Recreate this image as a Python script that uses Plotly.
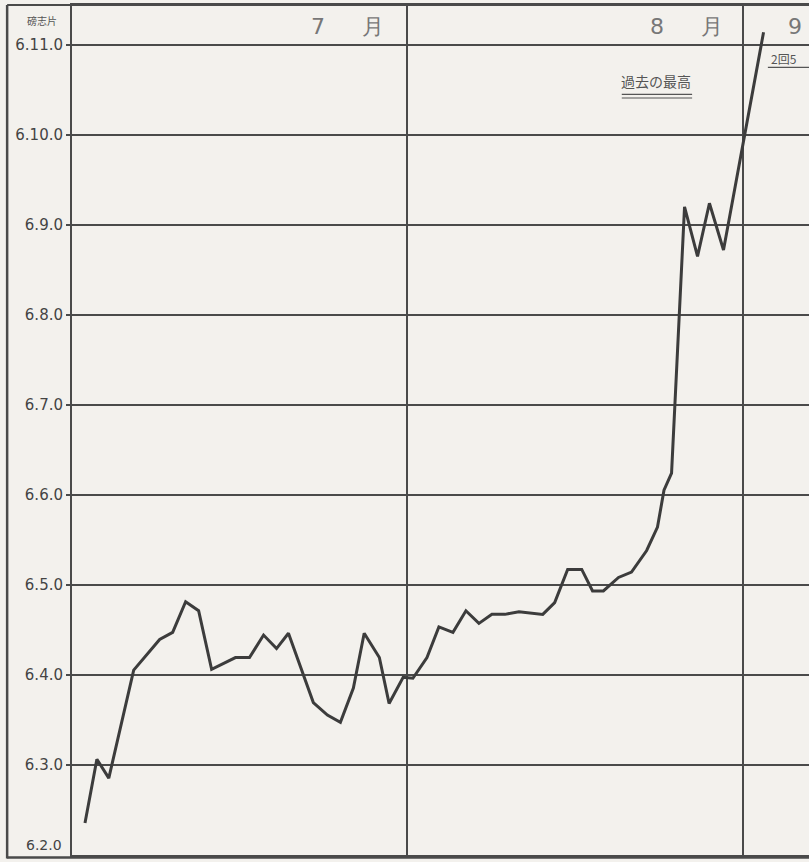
import plotly.graph_objects as go

# x: days counted from 1 July (August begins at 31, September at 62)
days = [1.2, 2.3, 3.4, 5.7, 8.1, 9.3, 10.5, 11.7, 12.9, 15.1, 16.4, 17.7, 18.9, 20.0,
        22.3, 23.6, 24.8, 26.0, 27.0, 28.4, 29.3, 30.6, 31.5, 32.8, 33.9, 35.2, 36.4,
        37.6, 38.8, 40.0, 41.3, 42.5, 43.5, 44.6, 45.8, 47.1, 48.1, 49.1, 50.5, 51.7,
        53.1, 54.1, 54.7, 55.4, 56.6, 57.8, 58.9, 60.2, 63.9]
# y: price in shillings above 6 pounds (6.x.0)
shillings = [2.35, 3.06, 2.85, 4.05, 4.39, 4.47, 4.81, 4.71, 4.06, 4.19, 4.19, 4.44, 4.29, 4.46,
             3.69, 3.55, 3.47, 3.85, 4.46, 4.19, 3.68, 3.97, 3.96, 4.19, 4.53, 4.47, 4.71,
             4.57, 4.67, 4.67, 4.70, 4.68, 4.67, 4.80, 5.17, 5.17, 4.93, 4.93, 5.08, 5.14,
             5.38, 5.64, 6.05, 6.24, 9.20, 8.65, 9.24, 8.72, 11.14]

tick_vals = [2, 3, 4, 5, 6, 7, 8, 9, 10, 11]
tick_text = ["6.2.0", "6.3.0", "6.4.0", "6.5.0", "6.6.0", "6.7.0", "6.8.0", "6.9.0", "6.10.0", "6.11.0"]
month_bounds = [31, 62]
month_labels = [("7", 22.7), ("月", 27.8), ("8", 54.1), ("月", 59.1), ("9", 66.8)]

INK = "#4a4a4a"
PAPER = "#f3f1ed"
FONT = "DejaVu Sans"

fig = go.Figure()
fig.add_trace(go.Scatter(x=days, y=shillings, mode="lines",
                         line=dict(color="#3c3c3c", width=3), showlegend=False,
                         hoverinfo="skip"))

annotations = []
for txt, xv in month_labels:
    annotations.append(dict(x=xv, y=11.2, xref="x", yref="y", text=txt, showarrow=False,
                            font=dict(family=FONT, size=22, color="#777777")))
annotations.append(dict(x=-0.018, y=11.27, xref="paper", yref="y", text="磅志片",
                        showarrow=False, xanchor="right",
                        font=dict(family="Noto Sans CJK JP", size=10, color="#555555")))
annotations.append(dict(x=54.0, y=10.6, xref="x", yref="y", text="過去の最高",
                        showarrow=False,
                        font=dict(family="Noto Sans CJK JP", size=14, color="#555555")))
annotations.append(dict(x=64.4, y=10.85, xref="x", yref="y", text="2回5",
                        showarrow=False, xanchor="left",
                        font=dict(family="Noto Sans CJK JP", size=12, color="#555555")))
# bottom tick label (sits just above the bottom border)
annotations.append(dict(x=-0.011, y=tick_vals[0], xref="paper", yref="y", text=tick_text[0],
                        showarrow=False, xanchor="right", yanchor="bottom",
                        font=dict(family=FONT, size=14, color="#444444")))

shapes = [
    # outer frame of the label column
    dict(type="line", xref="paper", yref="paper", x0=-0.088, x1=-0.088, y0=-0.004, y1=1,
         line=dict(color=INK, width=2.5)),
    dict(type="line", xref="paper", yref="paper", x0=-0.088, x1=1, y0=1, y1=1,
         line=dict(color=INK, width=2)),
    dict(type="line", xref="paper", yref="paper", x0=-0.088, x1=1, y0=-0.003, y1=-0.003,
         line=dict(color=INK, width=2.5)),
    # double underline of the annotation
    dict(type="line", xref="x", yref="y", x0=50.8, x1=57.3, y0=10.45, y1=10.45,
         line=dict(color="#555555", width=1.2)),
    dict(type="line", xref="x", yref="y", x0=50.8, x1=57.3, y0=10.41, y1=10.41,
         line=dict(color="#555555", width=1.2)),
    dict(type="line", xref="x", yref="y", x0=64.3, x1=68.1, y0=10.75, y1=10.75,
         line=dict(color="#555555", width=1.2)),
]

fig.update_layout(
    width=809, height=862,
    margin=dict(l=72, r=0, t=5, b=7),
    paper_bgcolor=PAPER, plot_bgcolor=PAPER,
    annotations=annotations, shapes=shapes,
    xaxis=dict(range=[0, 68.1], tickvals=month_bounds, showticklabels=False,
               showgrid=True, gridcolor=INK, gridwidth=1.5, zeroline=False,
               showline=True, linecolor=INK, linewidth=2, mirror=True, ticks=""),
    yaxis=dict(range=[1.995, 11.444], tickvals=tick_vals[1:], ticktext=tick_text[1:],
               showgrid=True, gridcolor=INK, gridwidth=1.5, zeroline=False,
               showline=True, linecolor=INK, linewidth=2, mirror=False,
               ticks="outside", ticklen=4, tickcolor=INK, tickwidth=1.5,
               tickfont=dict(family=FONT, size=15, color="#444444")),
)

fig.write_html(
    "out.html",
    config={"displayModeBar": False},
    post_script="document.body.style.margin='0';document.body.style.padding='0';"
                "document.body.style.overflow='hidden';"
                "document.body.style.background='" + PAPER + "';",
)
